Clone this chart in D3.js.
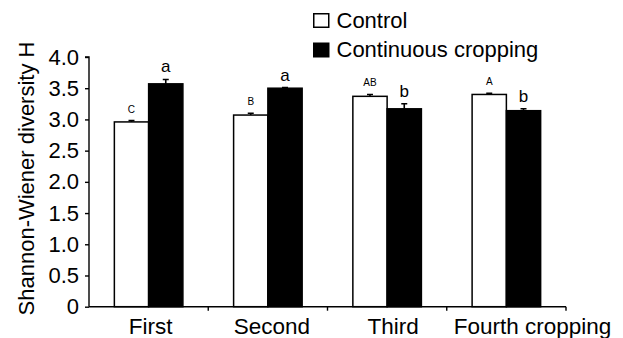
<!DOCTYPE html>
<html>
<head>
<meta charset="utf-8">
<script src="https://cdn.jsdelivr.net/npm/d3@7"></script>
<style>
  body { margin: 0; background: #fff; }
  svg { display: block; font-family: "Liberation Sans", Arial, sans-serif; }
</style>
</head>
<body>
<svg width="623" height="338"></svg>
<script>
// data
const croppings = ['First', 'Second', 'Third', 'Fourth cropping']
const seriesNames = ['Control', 'Continuous cropping']
const controlValues = [2.96, 3.07, 3.37, 3.40]
const controlErrors = [0.02, 0.03, 0.03, 0.02]
const controlLetters = ['C', 'B', 'AB', 'A']
const continuousValues = [3.57, 3.50, 3.17, 3.14]
const continuousErrors = [0.07, 0.01, 0.08, 0.03]
const continuousLetters = ['a', 'a', 'b', 'b']
const yTicks = [0, 0.5, 1.0, 1.5, 2.0, 2.5, 3.0, 3.5, 4.0]

const svg = d3.select('svg')
const plotLeft = 89, plotRight = 566, plotTop = 57, plotBottom = 306.7

const x = d3.scaleBand().domain(croppings).range([plotLeft, plotRight]).padding(0)
const xs = d3.scaleBand().domain(seriesNames).range([0, x.bandwidth()])
  .paddingInner(0).paddingOuter(0.74)
const y = d3.scaleLinear().domain([0, 4]).range([plotBottom, plotTop])

const fills = { 'Control': '#fff', 'Continuous cropping': '#000' }

const rows = []
croppings.forEach((c, i) => {
  rows.push({ cat: c, s: seriesNames[0], v: controlValues[i], e: controlErrors[i], l: controlLetters[i] })
  rows.push({ cat: c, s: seriesNames[1], v: continuousValues[i], e: continuousErrors[i], l: continuousLetters[i] })
})

const g = svg.append('g')

// error bars (upper only), drawn first so the bar sits over the stem
const cap = 3
g.selectAll('path.err').data(rows).enter().append('path')
  .attr('class', 'err')
  .attr('d', d => {
    const cx = x(d.cat) + xs(d.s) + xs.bandwidth() / 2
    const y0 = y(d.v), y1 = y(d.v + d.e)
    return `M${cx},${y0}V${y1}M${cx - cap},${y1}H${cx + cap}`
  })
  .attr('stroke', '#000').attr('stroke-width', 1.6).attr('fill', 'none')

g.selectAll('rect.bar').data(rows).enter().append('rect')
  .attr('class', 'bar')
  .attr('x', d => x(d.cat) + xs(d.s))
  .attr('width', xs.bandwidth())
  .attr('y', d => y(d.v))
  .attr('height', d => y(0) - y(d.v))
  .attr('fill', d => fills[d.s])
  .attr('stroke', '#000').attr('stroke-width', 1.5)

// significance letters
g.selectAll('text.sig').data(rows).enter().append('text')
  .attr('class', 'sig')
  .attr('x', d => x(d.cat) + xs(d.s) + xs.bandwidth() / 2)
  .attr('y', d => y(d.v + d.e) - (d.s === 'Control' ? 8 : 7))
  .attr('text-anchor', 'middle')
  .attr('font-size', d => d.s === 'Control' ? 10 : 17)
  .text(d => d.l)

// y axis
const yAxis = g.append('g')
  .attr('transform', `translate(${plotLeft},0)`)
  .call(d3.axisLeft(y).tickValues(yTicks).tickSize(4).tickPadding(6)
    .tickFormat(d => d === 0 ? '0' : d3.format('.1f')(d)))
yAxis.select('.domain').attr('d', `M-4,${plotTop}H0V${plotBottom}`).attr('stroke-width', 1.4)
yAxis.selectAll('line').attr('stroke-width', 1.4)
yAxis.selectAll('text').attr('font-size', 22).attr('fill', '#000')
yAxis.attr('font-family', null).attr('font-size', null)

// x axis: ticks at the group boundaries
const xAxis = g.append('g').attr('transform', `translate(0,${plotBottom})`)
xAxis.append('line').attr('x1', plotLeft).attr('x2', plotRight).attr('stroke', '#000').attr('stroke-width', 1.4)
xAxis.selectAll('line.tk').data(croppings).enter().append('line')
  .attr('class', 'tk')
  .attr('x1', d => x(d) + x.bandwidth()).attr('x2', d => x(d) + x.bandwidth())
  .attr('y1', 0).attr('y2', 4)
  .attr('stroke', '#000').attr('stroke-width', 1.4)
xAxis.selectAll('text').data(croppings).enter().append('text')
  .attr('x', (d, i) => i === croppings.length - 1 ? x(d) + 7 : x(d) + x.bandwidth() / 2 + 2 + i * 2)
  .attr('y', 27)
  .attr('text-anchor', (d, i) => i === croppings.length - 1 ? 'start' : 'middle')
  .attr('font-size', 22.5)
  .text(d => d)

// y title
svg.append('text')
  .attr('transform', `translate(33.5,178.5) rotate(-90)`)
  .attr('text-anchor', 'middle')
  .attr('font-size', 22)
  .text('Shannon-Wiener diversity H')

// legend
const legend = svg.append('g').attr('transform', 'translate(313,13)')
seriesNames.forEach((s, i) => {
  const row = legend.append('g').attr('transform', `translate(0,${i * 29.5})`)
  row.append('rect').attr('x', 0.75).attr('y', 0.75).attr('width', 15).attr('height', 13.5)
    .attr('fill', fills[s]).attr('stroke', '#000').attr('stroke-width', 1.5)
  row.append('text').attr('x', 23.5).attr('y', 14.5).attr('font-size', 22).text(s)
})
</script>
</body>
</html>
